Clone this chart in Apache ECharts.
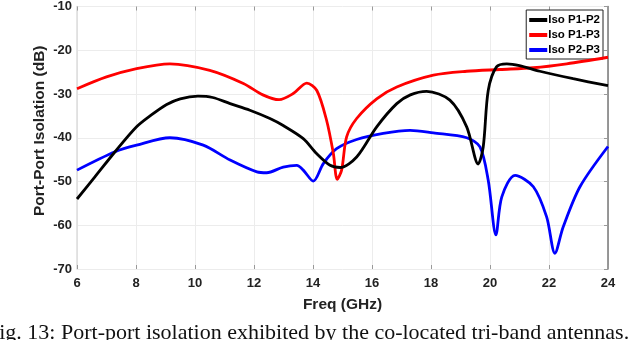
<!DOCTYPE html>
<html><head><meta charset="utf-8">
<script src="https://cdn.jsdelivr.net/npm/echarts@6/dist/echarts.min.js"></script>
<style>html,body{margin:0;padding:0;background:#fff}#c{width:640px;height:340px}</style>
</head><body><div id="c"></div>
<script>
const xTicks = [6, 8, 10, 12, 14, 16, 18, 20, 22, 24];
const yTicks = [-10, -20, -30, -40, -50, -60, -70];
const seriesNames = ['Iso P1-P2', 'Iso P1-P3', 'Iso P2-P3'];

const p12Freq = [6, 6.6, 7.29, 8.02, 8.5, 9.04, 9.5, 10.1, 10.6, 11.19, 11.86, 12.54, 12.99, 13.67, 14.12, 14.58, 14.92, 15.48, 16.16, 16.84, 17.3, 17.85, 18.64, 19.21, 19.6, 19.77, 19.94, 20.22, 20.57, 21.0, 21.69, 22.82, 24];
const p12Val  = [-54, -49, -43.2, -37.5, -34.9, -32.4, -31.1, -30.5, -30.8, -32.2, -33.7, -35.6, -37.2, -40.2, -43.6, -46.3, -46.8, -44.4, -37.5, -32.2, -30.2, -29.4, -31.4, -37.5, -46.0, -42.1, -29.2, -23.8, -23.1, -23.5, -24.8, -26.5, -28.1];

const p13Freq = [6, 7, 8.02, 9.15, 10.5, 11.64, 12.3, 12.85, 13.33, 13.79, 14.13, 14.46, 14.69, 14.82, 14.97, 15.14, 15.48, 16.16, 16.84, 18.08, 19.21, 20.34, 21.47, 22.6, 24];
const p13Val  = [-28.8, -26.1, -24.2, -23.1, -24.6, -27.6, -30.2, -31.3, -29.9, -27.5, -29.2, -36.0, -43.6, -49.5, -47.4, -39.8, -35.6, -31.1, -28.4, -25.7, -24.8, -24.4, -24.0, -23.1, -21.6];

const p23Freq = [6, 7.29, 8.02, 9.15, 10.28, 11.19, 12.1, 12.43, 12.99, 13.45, 13.67, 14.01, 14.35, 14.8, 15.48, 16.38, 17.29, 18.08, 19.21, 19.66, 19.94, 20.2, 20.4, 20.85, 21.47, 21.92, 22.2, 22.48, 23.05, 24];
const p23Val  = [-47.4, -43.2, -41.7, -40.0, -41.7, -45.1, -47.8, -48.0, -46.7, -46.3, -47.4, -49.9, -45.9, -42.5, -40.4, -39.0, -38.3, -38.9, -40.0, -42.1, -49.7, -62.2, -53.5, -48.6, -51.2, -58.1, -66.4, -60.4, -51.2, -42.0];

const colors = ['#000000', '#ff0000', '#0000ff'];
const pairs = (xs, ys) => xs.map((x, i) => [x, ys[i]]);
const datasets = [pairs(p12Freq, p12Val), pairs(p13Freq, p13Val), pairs(p23Freq, p23Val)];

const chart = echarts.init(document.getElementById('c'), null, {renderer: 'canvas'});
const font = 'Liberation Sans, Arial, sans-serif';
chart.setOption({
  animation: false,
  backgroundColor: '#fff',
  grid: {left: 77, right: 32, top: 6, bottom: 71},
  legend: {
    right: 37, top: 10, orient: 'vertical',
    data: seriesNames,
    icon: 'rect', itemWidth: 18, itemHeight: 4, itemGap: 3,
    padding: [4, 3, 3, 3],
    borderColor: '#222', borderWidth: 1, backgroundColor: '#fff',
    textStyle: {fontFamily: font, fontWeight: 'bold', fontSize: 11.5, color: '#000', padding: [0, 0, 0, -4]}
  },
  xAxis: [{
    type: 'value', min: 6, max: 24, interval: 2,
    name: 'Freq (GHz)', nameLocation: 'middle', nameGap: 28, nameMoveOverlap: false,
    nameTextStyle: {fontFamily: font, fontWeight: 'bold', fontSize: 15.5, color: '#222'},
    axisLine: {show: false},
    axisTick: {show: true, inside: true, length: 4, lineStyle: {color: '#999'}},
    axisLabel: {fontFamily: font, fontWeight: 'bold', fontSize: 13, color: '#222', margin: 8},
    splitLine: {show: true, lineStyle: {color: '#ececec', width: 1}}
  }, {
    type: 'value', min: 6, max: 24, interval: 2, position: 'top',
    axisLine: {show: false},
    axisTick: {show: true, inside: true, length: 4, lineStyle: {color: '#999'}},
    axisLabel: {show: false}, splitLine: {show: false}
  }],
  yAxis: [{
    type: 'value', min: -70, max: -10, interval: 10,
    name: 'Port-Port Isolation (dB)', nameLocation: 'middle', nameGap: 29, nameMoveOverlap: false,
    nameTextStyle: {fontFamily: font, fontWeight: 'bold', fontSize: 15.5, color: '#222', padding: [0, 0, 0, 14]},
    axisLine: {show: true, lineStyle: {color: '#dcdcdc', width: 1.5}},
    axisTick: {show: false},
    axisLabel: {fontFamily: font, fontWeight: 'bold', fontSize: 13, color: '#222', margin: 5},
    splitLine: {show: true, lineStyle: {color: '#ececec', width: 1}}
  }, {
    type: 'value', min: -70, max: -10, interval: 10, position: 'right',
    axisLine: {show: true, lineStyle: {color: '#777', width: 1.5}},
    axisTick: {show: true, inside: true, length: 4, lineStyle: {color: '#999'}},
    axisLabel: {show: false}, splitLine: {show: false}
  }],
  series: seriesNames.map((n, i) => ({
    name: n, type: 'line', data: datasets[i], xAxisIndex: 0, yAxisIndex: 0,
    smooth: 0.3, showSymbol: false, symbol: 'none',
    lineStyle: {color: colors[i], width: 2.8}, itemStyle: {color: colors[i]},
    z: 10 - i
  })),
  graphic: [{
    type: 'text', left: -13, top: 322,
    style: {text: 'Fig. 13: Port-port isolation exhibited by the co-located tri-band antennas.',
      font: '22px "Liberation Serif", "Times New Roman", serif', fill: '#111'}
  }]
});
</script></body></html>
